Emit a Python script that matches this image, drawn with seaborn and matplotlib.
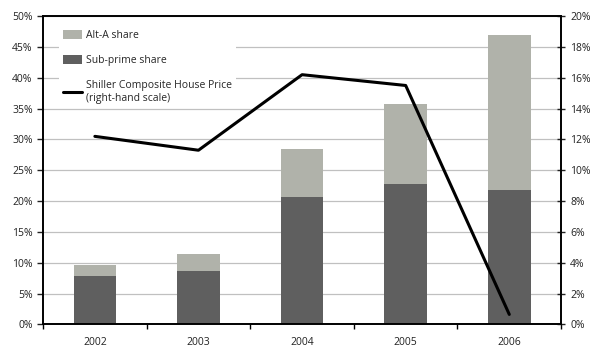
import numpy as np
import pandas as pd
import matplotlib
matplotlib.use("Agg")
import matplotlib.pyplot as plt
import seaborn as sns
from matplotlib.patches import Patch
from matplotlib.lines import Line2D
from matplotlib.ticker import FuncFormatter, MultipleLocator

years = ["2002", "2003", "2004", "2005", "2006"]
subprime_share = [7.8, 8.7, 20.7, 22.8, 21.8]
alt_a_share = [1.9, 2.8, 7.8, 13.0, 25.1]
shiller_price = [12.2, 11.3, 16.2, 15.5, 0.65]

total_share = [s + a for s, a in zip(subprime_share, alt_a_share)]
df = pd.DataFrame({"year": years, "sub": subprime_share, "total": total_share,
                   "price": shiller_price})

sns.set_theme(style="white")
plt.rcParams["font.family"] = ["Open Sans", "DejaVu Sans"]

c_alt = "#B0B2AA"
c_sub = "#5F5F5F"

fig, ax = plt.subplots(figsize=(5.9, 3.5), dpi=100)
fig.subplots_adjust(left=0.073, right=0.951, top=0.954, bottom=0.073)

sns.barplot(data=df, x="year", y="total", color=c_alt, saturation=1, width=0.41, ax=ax, zorder=2)
sns.barplot(data=df, x="year", y="sub", color=c_sub, saturation=1, width=0.41, ax=ax, zorder=2)
for p in ax.patches:
    p.set_edgecolor("none")

ax.set_ylim(0, 50)
ax.set_xlim(-0.5, len(years) - 0.5)
ax.yaxis.set_major_locator(MultipleLocator(5))
ax.yaxis.set_major_formatter(FuncFormatter(lambda v, p: f"{v:.0f}%"))
ax.yaxis.grid(True, color="#C0C0C0", linewidth=0.9, zorder=0)
ax.set_axisbelow(True)
ax.set_xlabel("")
ax.set_ylabel("")
ax.set_xticks(np.arange(len(years)))
ax.set_xticklabels(years)
ax.tick_params(axis="x", length=0, labelsize=7.5, pad=9, colors="#222222")
ax.tick_params(axis="y", left=True, length=4, width=1, direction="out", labelsize=7.5, colors="#222222")
# minor ticks at category boundaries
ax.set_xticks(np.arange(-0.5, len(years), 1), minor=True)
ax.tick_params(axis="x", which="minor", bottom=True, length=3.5, width=1, direction="out", color="black")
for s in ax.spines.values():
    s.set_color("black")
    s.set_linewidth(1.2)

ax2 = ax.twinx()
sns.lineplot(x=np.arange(len(years)), y=df["price"], color="black", linewidth=2.2, ax=ax2, zorder=3)
ax2.set_ylim(0, 20)
ax2.yaxis.set_major_locator(MultipleLocator(2))
ax2.yaxis.set_major_formatter(FuncFormatter(lambda v, p: f"{v:.0f}%"))
ax2.tick_params(axis="y", right=True, length=6, width=1, direction="inout", labelsize=7.5, colors="#222222")
ax2.set_ylabel("")
for s in ax2.spines.values():
    s.set_color("black")
    s.set_linewidth(1.2)

handles = [Patch(facecolor=c_alt, edgecolor="none"),
           Patch(facecolor=c_sub, edgecolor="none"),
           Line2D([0], [0], color="black", linewidth=2.2)]
labels = ["Alt-A share", "Sub-prime share", "Shiller Composite House Price\n(right-hand scale)"]
leg = ax2.legend(handles, labels, loc="upper left", bbox_to_anchor=(0.02, 0.985), frameon=True,
                 fontsize=7.5, handlelength=1.8, handleheight=0.9, handletextpad=0.4,
                 labelspacing=1.35)
leg.get_frame().set_facecolor("white")
leg.get_frame().set_alpha(1)
leg.get_frame().set_edgecolor("none")

fig.savefig("out.png", dpi=100)
